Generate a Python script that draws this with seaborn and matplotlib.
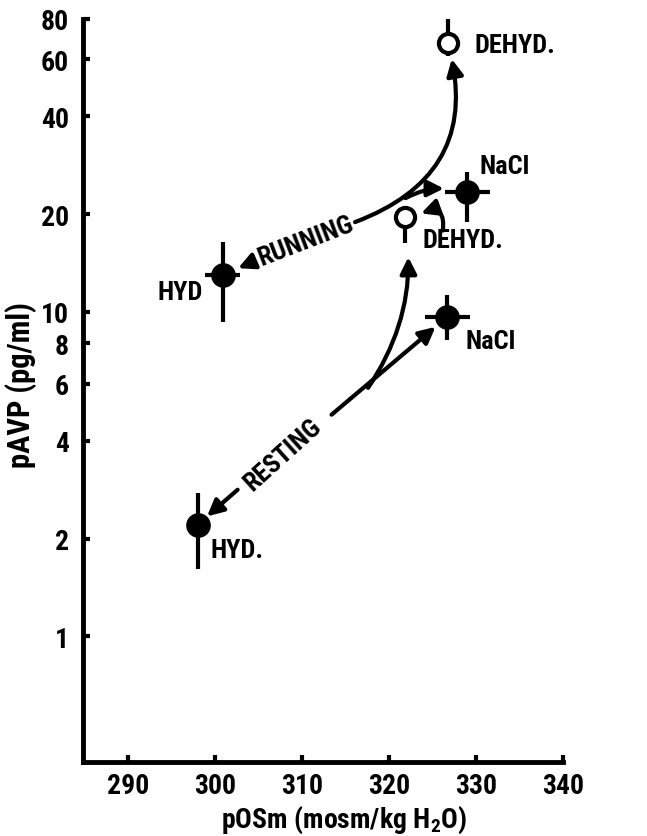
import numpy as np
import pandas as pd
import seaborn as sns
import matplotlib.pyplot as plt
from matplotlib import font_manager

# data
condition = ['HYD.', 'NaCl', 'DEHYD.', 'HYD', 'NaCl', 'DEHYD.']
state = ['RESTING', 'RESTING', 'RESTING', 'RUNNING', 'RUNNING', 'RUNNING']
filled = [True, True, False, True, True, False]
posm = [298.0, 326.7, 321.8, 300.9, 329.0, 326.8]
posm_err = [0.0, 2.6, 0.0, 2.0, 2.6, 0.0]
pavp = [2.21, 9.64, 19.6, 13.0, 23.4, 67.5]
pavp_lo = [1.61, 8.19, 16.3, 9.3, 18.9, 61.6]
pavp_hi = [2.77, 11.3, 19.6, 16.4, 26.9, 80.0]

y_ticks = [1, 2, 4, 6, 8, 10, 20, 40, 60, 80]
x_ticks = [290, 300, 310, 320, 330, 340]

df = pd.DataFrame({'condition': condition, 'state': state, 'filled': filled,
                   'posm': posm, 'pavp': pavp})

sns.set_theme(style='ticks')
# narrow font if one is installed, else DejaVu Sans
installed = {f.name for f in font_manager.fontManager.ttflist}
fam = [f for f in ['Liberation Sans Narrow', 'Roboto Condensed'] if f in installed]
plt.rcParams['font.family'] = fam + ['DejaVu Sans']
plt.rcParams['font.stretch'] = 'condensed'
plt.rcParams['font.weight'] = 'bold'
plt.rcParams['mathtext.default'] = 'regular'
for k in ['text.color', 'axes.labelcolor', 'xtick.color', 'ytick.color']:
    plt.rcParams[k] = 'black'

fig = plt.figure(figsize=(6.47, 8.37), dpi=100)
ax = fig.add_axes([0.128, 0.0884, 0.742, 0.888])

# error bars
yerr = [np.array(pavp) - np.array(pavp_lo), np.array(pavp_hi) - np.array(pavp)]
ax.errorbar(posm, pavp, yerr=yerr, xerr=posm_err, fmt='none', ecolor='black',
            elinewidth=3, capsize=0, zorder=2)

# points: filled and open circles
sns.scatterplot(data=df[df['filled']], x='posm', y='pavp', ax=ax, s=280,
                color='black', edgecolor='black', linewidth=1, zorder=3, legend=False)
sns.scatterplot(data=df[~df['filled']], x='posm', y='pavp', ax=ax, s=190,
                color='white', edgecolor='black', linewidth=3, zorder=3, legend=False)

ax.set_yscale('log')
ax.set_xlim(284.8, 340)
ax.set_ylim(0.41, 80)
ax.set_yticks(y_ticks)
ax.set_yticklabels([str(t) for t in y_ticks])
ax.minorticks_off()
ax.set_xticks(x_ticks)
ax.tick_params(direction='in', length=5, width=3, labelsize=20, colors='black')
ax.tick_params(axis='y', pad=10)
ax.tick_params(axis='x', pad=7)
for s in ['top', 'right']:
    ax.spines[s].set_visible(False)
for s in ['left', 'bottom']:
    ax.spines[s].set_linewidth(3.5)
    ax.spines[s].set_color('black')

ax.set_xlabel('pOSm (mosm/kg H$_2$O)', fontsize=20, fontweight='bold')
ax.xaxis.set_label_coords(0.545, -0.056)
ax.set_ylabel('pAVP (pg/ml)', fontsize=22, fontweight='bold')
ax.yaxis.set_label_coords(-0.096, 0.509)

# point labels (offsets in pixels)
label_off = [(39, -25), (43, -24), (58, -23), (-43, -17), (37, 26), (67, -2)]
for cnd, x, y, off in zip(condition, posm, pavp, label_off):
    ax.annotate(cnd, (x, y), xytext=off, textcoords='offset pixels',
                ha='center', va='center', fontsize=19, fontweight='bold')

arrow = dict(arrowstyle='-|>,head_length=0.7,head_width=0.35', color='black',
             lw=3, mutation_scale=14, shrinkA=0)

# RUNNING
ax.text(310.5, 16.6, 'RUNNING', rotation=21, ha='center', va='center',
        fontsize=19, fontweight='bold')
ax.annotate('', xy=(posm[3], pavp[3]), xytext=(304.2, 14.2),
            arrowprops=dict(arrow, shrinkB=12))
ax.annotate('', xy=(posm[5], pavp[5]), xytext=(316.1, 18.9),
            arrowprops=dict(arrow, shrinkB=12, connectionstyle='arc3,rad=0.45'))
ax.annotate('', xy=(posm[4], pavp[4]), xytext=(321.9, 22.4),
            arrowprops=dict(arrow, shrinkB=17, connectionstyle='arc3,rad=-0.2'))

# RESTING
ax.text(307.8, 3.63, 'RESTING', rotation=42, ha='center', va='center',
        fontsize=19, fontweight='bold')
ax.annotate('', xy=(posm[1], pavp[1]), xytext=(313.4, 4.82),
            arrowprops=dict(arrow, shrinkB=11))
ax.annotate('', xy=(posm[0], pavp[0]), xytext=(302.6, 2.83),
            arrowprops=dict(arrow, shrinkB=9))
ax.annotate('', xy=(posm[2], pavp[2]), xytext=(317.6, 5.83),
            arrowprops=dict(arrow, shrinkB=29, connectionstyle='arc3,rad=0.2'))
# little arrow from the DEHYD. label back to the open circle
ax.annotate('', xy=(323.7, 20.1), xytext=(326.2, 17.8),
            arrowprops=dict(arrow, shrinkB=0, connectionstyle='arc3,rad=0.8'))

fig.savefig('out.png', dpi=100)
